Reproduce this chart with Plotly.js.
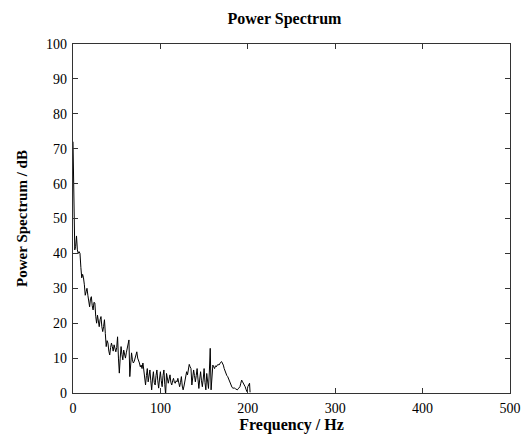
<!DOCTYPE html>
<html>
<head>
<meta charset="utf-8">
<script src="https://cdn.plot.ly/plotly-3.0.1.min.js"></script>
<style>html,body{margin:0;padding:0;background:#fff;}#chart{width:522px;height:440px;}</style>
</head>
<body>
<div id="chart"></div>
<script>
const freqHz = [0,0.5,1,1.5,2,3,4,5,6,7,8,9,10,11,12,13,14,15,16,17,18,19,20,21,22,23,24,25,26,27,28,29,30,31,32,33,34,35,36,37,38,39,40,41,42,43,44,45,46,47,48,49,50,51,52,53,54,55,56,57,58,59,60,61,62,63,64,65,66,67,68,69,70,71,72,73,74,75,76,77,78,79,80,81,82,83,84,85,86,87,88,89,90,91,92,93,94,95,96,97,98,99,100,101,102,103,104,105,106,107,108,109,110,111,112,113,114,115,116,117,118,119,120,121,122,123,124,125,126,127,128,129,130,131,132,133,134,135,136,137,138,139,140,141,142,143,144,145,146,147,148,149,150,151,152,153,154,155,156,157,158,159,160,161,162,163,164,165,166,167,168,169,170,171,172,173,174,175,176,177,178,179,180,181,182,183,184,185,186,187,188,189,190,191,192,193,194,195,196,197,198,199,200,201,202,202.6];
const powerDb = [72,60,52,47,41,42,45,41,40,40.5,40,36,33,34,33,31,28,29,30,28,26,24.7,27,27.6,25,23.8,26,25.8,22,20,22.3,20,19,21,21.9,19,17.6,19,21,17,13.3,15,14.3,12,10.9,13,14.3,13.3,12,13.8,12.5,11.8,13,16.1,10,5.7,10,13.3,11,9.5,12.3,11,10,11.5,12.9,13.5,15.2,4.7,9,11.5,9.5,8.6,9,10,11,11.8,10,9.5,8.6,7.5,8,7,8.6,6.6,4,2.3,5,7,3.2,5.2,6.6,3.5,0.9,4,6.1,3,2.3,5,6.6,3.5,1.4,4,6.1,3.5,1.8,5,6.6,2.5,-0.5,5.6,4,2.8,4,5.2,3,2.3,3.5,4.2,3,2.8,3.5,3.2,4.2,3,1.8,3,4.7,2,0.9,2,3.2,5,6.1,5.2,6.5,8.2,7.5,7,2.3,4,6.6,5,3.2,5,7,4,1.3,4,6.1,3.5,1.8,4,7,3,0.9,5.6,3,1.3,6,12.8,0.9,6,8,7.5,7,7.8,7.5,8,8.2,8,8.5,8.8,9,8.5,8,7,6.1,5.5,5,4.7,4,3.2,2.5,1.8,1.6,1.4,1.5,1.4,1.2,1,0.9,1.2,1.5,1.8,2.8,3.7,3.2,2.8,2.2,1.8,1,0.4,1.8,2.2,2.8,0.2];
const xTicks = [0,100,200,300,400,500];
const yTicks = [0,10,20,30,40,50,60,70,80,90,100];

const serif = '"Liberation Serif", "DejaVu Serif", serif';
Plotly.newPlot('chart', [{
  x: freqHz, y: powerDb, type: 'scatter', mode: 'lines',
  line: {color: '#000', width: 1}, showlegend: false, hoverinfo: 'skip'
}], {
  width: 522, height: 440,
  margin: {l: 73, r: 12, t: 44, b: 47},
  paper_bgcolor: '#fff', plot_bgcolor: '#fff',
  font: {family: serif, size: 14, color: '#000'},
  title: {text: '<b>Power Spectrum</b>', x: 0.545, xanchor: 'center', y: 0.958, yanchor: 'middle', font: {family: serif, size: 16, color: '#000'}},
  xaxis: {
    range: [0, 500], tickvals: xTicks, ticktext: xTicks.map(String),
    ticks: 'inside', ticklen: 5, tickcolor: '#333', showgrid: false, zeroline: false,
    showline: true, linecolor: '#333', linewidth: 1.3, mirror: 'ticks',
    tickfont: {family: serif, size: 14}, ticklabelstandoff: 2, ticklabeloverflow: 'allow',
    title: {text: '<b>Frequency / Hz</b>', font: {family: serif, size: 16}, standoff: 2}
  },
  yaxis: {
    range: [0, 100], tickvals: yTicks, ticktext: yTicks.map(String),
    ticks: 'inside', ticklen: 5, tickcolor: '#333', showgrid: false, zeroline: false,
    showline: true, linecolor: '#333', linewidth: 1.3, mirror: 'ticks',
    tickfont: {family: serif, size: 14}, ticklabelstandoff: 2, ticklabeloverflow: 'allow',
    title: {text: '<b>Power Spectrum / dB</b>', font: {family: serif, size: 15}, standoff: 14}
  }
}, {staticPlot: true, displayModeBar: false});
</script>
</body>
</html>
